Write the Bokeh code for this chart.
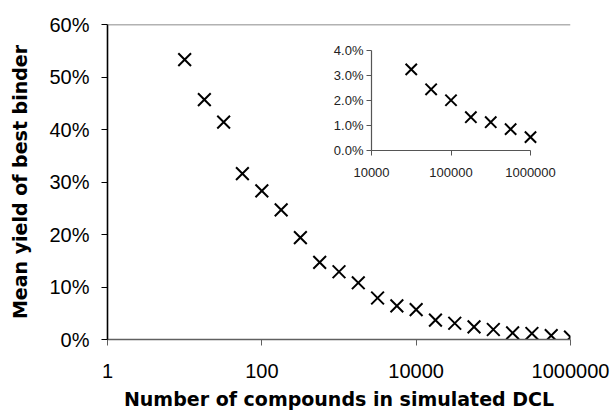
from bokeh.plotting import figure
from bokeh.models import (Range1d, LogScale, LinearAxis, LogAxis, FixedTicker,
                          PrintfTickFormatter, Span)
from bokeh.embed import file_html
from bokeh.resources import INLINE
import math

# ---------------- data ----------------
n_compounds = [10, 18, 32, 56, 100, 178, 316, 562, 1000, 1778, 3162, 5623,
               10000, 17783, 31623, 56234, 100000, 177828, 316228, 562341, 1000000]
mean_yield_pct = [53.3, 45.7, 41.4, 31.6, 28.3, 24.7, 19.4, 14.7, 12.9, 10.8, 7.9,
                  6.4, 5.7, 3.7, 3.1, 2.4, 1.9, 1.25, 1.15, 0.75, 0.45]

inset_compounds = [31623, 56234, 100000, 177828, 316228, 562341, 1000000]
inset_yield_pct = [3.24, 2.44, 2.0, 1.32, 1.12, 0.84, 0.52]

main_x_ticks = [1, 100, 10000, 1000000]
main_y_ticks = [0, 10, 20, 30, 40, 50, 60]
inset_x_ticks = [10000, 100000, 1000000]
inset_y_ticks = [0, 1, 2, 3, 4]

x_title = "Number of compounds in simulated DCL"
y_title = "Mean yield of best binder"

# ---------------- layout constants (pixels) ----------------
W, H = 613, 412
FRAME_L, FRAME_T, FRAME_W, FRAME_H = 107, 24, 463, 316
# inset placement inside the frame (pixels from frame left / bottom)
IN_X0, IN_X1 = 264, 423     # where 1e4 and 1e6 fall
IN_Y0, IN_Y1 = 190, 290     # where 0% and 4% fall

lx0, lx1 = math.log10(inset_x_ticks[0]), math.log10(inset_x_ticks[-1])
dec_px = (IN_X1 - IN_X0) / (lx1 - lx0)
ix_lo = 10 ** (lx0 - IN_X0 / dec_px)
ix_hi = 10 ** (lx1 + (FRAME_W - IN_X1) / dec_px)
y_per_px = (inset_y_ticks[-1] - inset_y_ticks[0]) / (IN_Y1 - IN_Y0)
iy_lo = inset_y_ticks[0] - IN_Y0 * y_per_px
iy_hi = inset_y_ticks[-1] + (FRAME_H - IN_Y1) * y_per_px

p = figure(width=W, height=H, x_axis_type="log",
           x_range=Range1d(1, 1e6), y_range=Range1d(0, 60),
           output_backend="svg", toolbar_location=None,
           min_border_left=FRAME_L, min_border_top=FRAME_T,
           min_border_right=W - FRAME_L - FRAME_W,
           min_border_bottom=H - FRAME_T - FRAME_H)
p.outline_line_color = None
p.grid.visible = False
p.background_fill_color = "white"
p.border_fill_color = "white"

TICK_FONT = "Liberation Sans"
TITLE_FONT = "DejaVu Sans"

xa = p.xaxis[0]
xa.ticker = FixedTicker(ticks=main_x_ticks)
xa.formatter = PrintfTickFormatter(format="%d")
xa.axis_line_color = "#606060"
xa.axis_line_width = 1.3
xa.major_tick_line_color = "#606060"
xa.major_tick_out = 6
xa.major_tick_in = 0
xa.minor_tick_line_color = None
xa.major_label_text_font = TICK_FONT
xa.major_label_text_font_size = "20px"
xa.major_label_text_color = "black"
xa.major_label_standoff = 18
xa.axis_label = x_title
xa.axis_label_text_font = TITLE_FONT
xa.axis_label_text_font_style = "bold"
xa.axis_label_text_font_size = "19px"
xa.axis_label_text_color = "black"
xa.axis_label_standoff = 7

ya = p.yaxis[0]
ya.ticker = FixedTicker(ticks=main_y_ticks)
ya.formatter = PrintfTickFormatter(format="%d%%")
ya.axis_line_color = "black"
ya.axis_line_width = 1.6
ya.major_tick_line_color = "black"
ya.major_tick_line_width = 1.2
ya.major_tick_out = 6
ya.major_tick_in = 0
ya.minor_tick_line_color = None
ya.major_label_text_font = TICK_FONT
ya.major_label_text_font_size = "20px"
ya.major_label_text_color = "black"
ya.major_label_standoff = 12
ya.axis_label = y_title
ya.axis_label_text_font = TITLE_FONT
ya.axis_label_text_font_style = "bold"
ya.axis_label_text_font_size = "19px"
ya.axis_label_text_color = "black"
ya.axis_label_standoff = 15

p.add_layout(Span(location=main_y_ticks[-1], dimension="width",
                  line_color="#666666", line_width=1.5))

p.scatter(n_compounds, mean_yield_pct, marker="x", size=18,
          line_color="black", line_width=2)

# ---------------- inset ----------------
p.extra_x_ranges = {"ix": Range1d(ix_lo, ix_hi)}
p.extra_x_scales = {"ix": LogScale()}
p.extra_y_ranges = {"iy": Range1d(iy_lo, iy_hi)}

ixa = LogAxis(x_range_name="ix", y_range_name="iy",
              fixed_location=inset_y_ticks[0],
              bounds=(inset_x_ticks[0], inset_x_ticks[-1]),
              ticker=FixedTicker(ticks=inset_x_ticks),
              formatter=PrintfTickFormatter(format="%d"))
ixa.axis_line_color = "#555555"
ixa.axis_line_width = 1.2
ixa.major_tick_line_color = "#555555"
ixa.major_tick_out = 5
ixa.major_tick_in = 0
ixa.minor_tick_line_color = None
ixa.major_label_text_font = TICK_FONT
ixa.major_label_text_font_size = "13px"
ixa.major_label_text_color = "#222222"
ixa.major_label_standoff = 13
p.add_layout(ixa, "below")

iya = LinearAxis(x_range_name="ix", y_range_name="iy",
                 fixed_location=inset_x_ticks[0],
                 bounds=(inset_y_ticks[0], inset_y_ticks[-1]),
                 ticker=FixedTicker(ticks=inset_y_ticks),
                 formatter=PrintfTickFormatter(format="%.1f%%"))
iya.axis_line_color = "#555555"
iya.axis_line_width = 1.2
iya.major_tick_line_color = "#555555"
iya.major_tick_out = 5
iya.major_tick_in = 0
iya.minor_tick_line_color = None
iya.major_label_text_font = TICK_FONT
iya.major_label_text_font_size = "13px"
iya.major_label_text_color = "#222222"
iya.major_label_standoff = 3
p.add_layout(iya, "left")

p.scatter(inset_compounds, inset_yield_pct, marker="x", size=16,
          line_color="black", line_width=2, x_range_name="ix", y_range_name="iy")

open("out.html", "w").write(file_html(p, INLINE))
